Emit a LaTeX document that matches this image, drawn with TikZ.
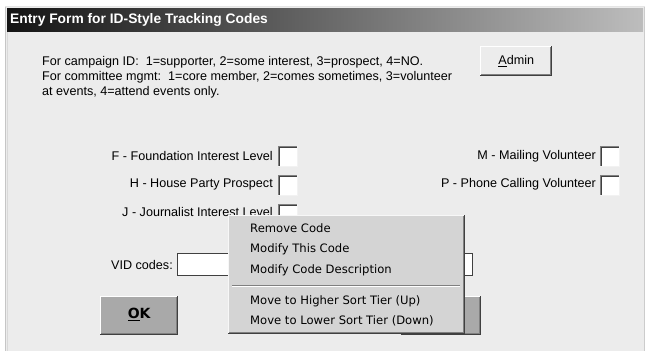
\documentclass[tikz,border=0pt]{standalone}
\usepackage{fontspec}
\setmainfont{Liberation Sans}
\newfontfamily\menufont{DejaVu Sans}
\definecolor{bodybg}{HTML}{ECECEC}
\definecolor{titledark}{HTML}{141414}
\definecolor{titlemid}{HTML}{4A4A4A}
\definecolor{titlelight}{HTML}{BDBDBD}
\definecolor{menubg}{HTML}{D4D4D4}
\definecolor{okbg}{HTML}{A9A9A9}
\definecolor{edgedark}{HTML}{404040}
\definecolor{edgemid}{HTML}{808080}
\tikzset{
  lbl/.style={anchor=east, inner sep=0pt, font=\fontsize{12.6}{14}\selectfont},
  info/.style={anchor=west, inner sep=0pt, font=\fontsize{12.6}{14}\selectfont},
  menuitem/.style={anchor=west, inner sep=0pt, font=\menufont\fontsize{11.6}{13}\selectfont},
  chk/.style={draw=none, fill=white, minimum width=20pt, minimum height=21pt, inner sep=0pt, anchor=north west},
  btn/.style={fill=#1, draw=none, inner sep=0pt, anchor=north west},
}
\newcommand{\raisededges}[1]{%
  \draw[white, line width=1pt] ([xshift=0.5pt]#1.south west) -- ([xshift=0.5pt,yshift=-0.5pt]#1.north west) -- ([yshift=-0.5pt]#1.north east);
  \draw[edgedark, line width=1pt] ([xshift=-0.5pt]#1.north east) -- ([xshift=-0.5pt,yshift=0.5pt]#1.south east) -- ([yshift=0.5pt]#1.south west);
  \draw[edgemid, line width=1pt] ([xshift=-1.5pt,yshift=-1pt]#1.north east) -- ([xshift=-1.5pt,yshift=1.5pt]#1.south east) -- ([xshift=1pt,yshift=1.5pt]#1.south west);
}
\newcommand{\sunkenedges}[1]{%
  \draw[edgemid, line width=1pt] ([xshift=0.5pt]#1.south west) -- ([xshift=0.5pt,yshift=-0.5pt]#1.north west) -- ([yshift=-0.5pt]#1.north east);
  \draw[edgedark, line width=1pt] ([xshift=1.5pt,yshift=1pt]#1.south west) -- ([xshift=1.5pt,yshift=-1.5pt]#1.north west) -- ([xshift=-1pt,yshift=-1.5pt]#1.north east);
  \draw[white!95!black, line width=1pt] ([xshift=-0.5pt]#1.north east) -- ([xshift=-0.5pt,yshift=0.5pt]#1.south east) -- ([yshift=0.5pt]#1.south west);
}
\begin{document}
\begin{tikzpicture}[x=1pt,y=-1pt]
\useasboundingbox (0,0) rectangle (647,351);
\fill[white] (0,0) rectangle (647,351);
% window body
\fill[bodybg] (5,6) rectangle (645,351);
\draw[gray!45] (5.5,6) -- (5.5,351);
\draw[gray!30] (7.5,31) -- (7.5,351);
\draw[gray!40] (644.5,6) -- (644.5,351);
\draw[gray!20] (5,6.5) -- (645,6.5);
% title bar
\shade[left color=titledark, middle color=titlemid, right color=titlelight] (7,8) rectangle (643,31);
\node[anchor=west, inner sep=0pt, text=white, font=\bfseries\fontsize{13.8}{15}\selectfont] (title) at (10,19.5) {Entry Form for ID-Style Tracking Codes};
% info text
\node[info] (info1) at (42,62) {For campaign ID:\ \ 1=supporter, 2=some interest, 3=prospect, 4=NO.};
\node[info] (info2) at (42,77) {For committee mgmt:\ \ 1=core member, 2=comes sometimes, 3=volunteer};
\node[info] (info3) at (42,92) {at events, 4=attend events only.};
% Admin button
\node[btn=bodybg, minimum width=72pt, minimum height=30pt] (admin) at (480,46) {};
\raisededges{admin}
\node[inner sep=0pt, font=\fontsize{12.6}{14}\selectfont] (admintext) at (admin.center) {\underline{A}dmin};
% checkboxes and labels
\node[chk] (fbox) at (278,146) {};
\sunkenedges{fbox}
\node[lbl] (flbl) at (273,156) {F - Foundation Interest Level};
\node[chk] (hbox) at (278,175) {};
\sunkenedges{hbox}
\node[lbl] (hlbl) at (273,184) {H - House Party Prospect};
\node[chk] (jbox) at (278,204) {};
\sunkenedges{jbox}
\node[lbl] (jlbl) at (273,212) {J - Journalist Interest Level};
\node[chk] (mbox) at (600,146) {};
\sunkenedges{mbox}
\node[lbl] (mlbl) at (596,156) {M - Mailing Volunteer};
\node[chk] (pbox) at (600,175) {};
\sunkenedges{pbox}
\node[lbl] (plbl) at (596,184) {P - Phone Calling Volunteer};
% VID codes
\node[lbl] (vidlbl) at (173,265) {VID codes:};
\node[draw=edgedark, line width=1pt, fill=white, minimum width=295pt, minimum height=22pt, inner sep=0pt, anchor=north west] (vidbox) at (177,253) {};
% OK button
\node[btn=okbg, minimum width=78pt, minimum height=39pt] (ok) at (100,296) {};
\raisededges{ok}
\node[inner sep=0pt, font=\menufont\bfseries\fontsize{14}{16}\selectfont] (oktext) at ([yshift=1pt]ok.center) {\underline{O}K};
% hidden button
\node[btn=okbg, minimum width=80pt, minimum height=39pt] (cancel) at (401,296) {};
\raisededges{cancel}
% context menu
\node[btn=menubg, minimum width=237pt, minimum height=119pt] (menu) at (228,215) {};
\draw[white!97!black, line width=1pt] ([xshift=0.5pt]menu.south west) -- ([xshift=0.5pt,yshift=-0.5pt]menu.north west) -- ([yshift=-0.5pt]menu.north east);
\draw[edgedark, line width=1pt] ([xshift=-0.5pt]menu.north east) -- ([xshift=-0.5pt,yshift=0.5pt]menu.south east) -- ([yshift=0.5pt]menu.south west);
\draw[edgemid, line width=1pt] ([xshift=-1.5pt,yshift=-1pt]menu.north east) -- ([xshift=-1.5pt,yshift=1.5pt]menu.south east) -- ([xshift=1pt,yshift=1.5pt]menu.south west);
\node[menuitem] (m1) at (250,228) {Remove Code};
\node[menuitem] (m2) at (250,249) {Modify This Code};
\node[menuitem] (m3) at (250,270) {Modify Code Description};
\coordinate (sepl) at (232,285);
\coordinate (sepr) at (460,285);
\draw[edgemid, line width=1pt] (sepl) -- (sepr);
\draw[white, line width=1pt] ([yshift=-1pt]sepl) -- ([yshift=-1pt]sepr);
\node[menuitem] (m4) at (250,301) {Move to Higher Sort Tier (Up)};
\node[menuitem] (m5) at (250,321) {Move to Lower Sort Tier (Down)};
\end{tikzpicture}
\end{document}
